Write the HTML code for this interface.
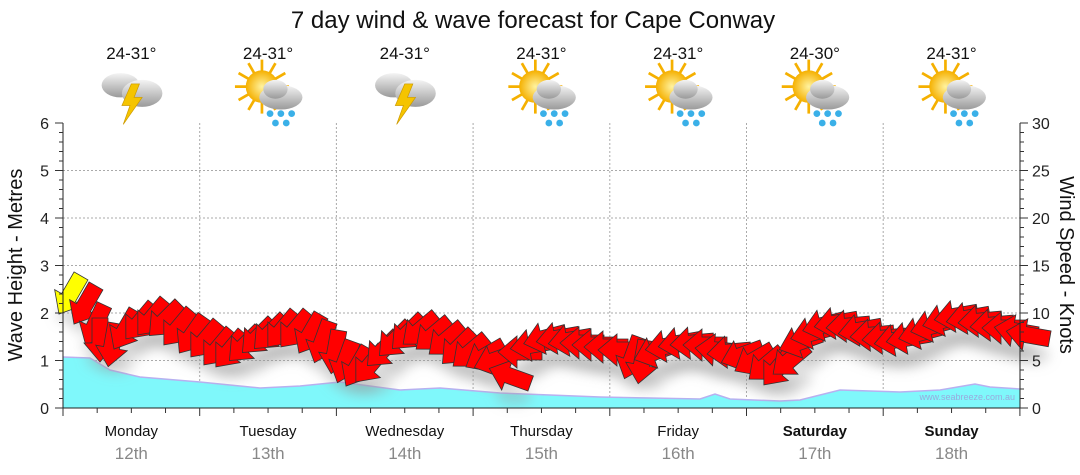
<!DOCTYPE html>
<html><head><meta charset="utf-8"><style>
html,body{margin:0;padding:0;background:#fff;}
svg{display:block;font-family:"Liberation Sans","DejaVu Sans",sans-serif;}
</style></head><body>
<svg id="s" width="1080" height="475" viewBox="0 0 1080 475" xmlns="http://www.w3.org/2000/svg">
<defs>
<filter id="sh" x="-50%" y="-50%" width="200%" height="200%"><feGaussianBlur stdDeviation="6"/></filter>
<radialGradient id="sun" cx="50%" cy="50%" r="50%"><stop offset="0" stop-color="#fff3a0"/><stop offset="1" stop-color="#f5b000"/></radialGradient>
<linearGradient id="cl" x1="0" y1="0" x2="0" y2="1"><stop offset="0" stop-color="#f4f4f4"/><stop offset="1" stop-color="#9a9a9a"/></linearGradient>
</defs>
<text x="533" y="28" font-size="24" text-anchor="middle" fill="#111">7 day wind &amp; wave forecast for Cape Conway</text>
<g id="g"></g>
</svg>
<script>
const g=document.getElementById('g');let h='';
const X0=63,X1=1020,Y0=408,Y6=123,DW=136.7;
for(let i=1;i<6;i++){const y=Y0-i*47.5;h+=`<line x1="${X0}" x2="${X1}" y1="${y}" y2="${y}" stroke="#aaa" stroke-dasharray="2,2"/>`;}
for(let d=1;d<7;d++){const x=X0+d*DW;h+=`<line x1="${x}" x2="${x}" y1="${Y6}" y2="${Y0}" stroke="#aaa" stroke-dasharray="2,2"/>`;}
const w=[[63,357],[90,358],[110,370],[140,377],[200,382],[260,388],[300,386],[340,382],[400,390],[440,388],[500,393],[550,395],[600,397],[650,398],[700,399],[715,394],[730,399],[780,401],[800,400],[840,390],[870,391],[900,392],[940,390],[975,384],[990,387],[1020,389]];
h+=`<path d="M63,408 L${w.map(p=>p.join(',')).join(' L')} L1020,408Z" fill="#7ff8fb"/>`;
h+=`<path d="M${w.map(p=>p.join(',')).join(' L')}" fill="none" stroke="#b8b0f0" stroke-width="1.5"/>`;
h+=`<text x="1015" y="400" font-size="9" fill="#9ad" text-anchor="end">www.seabreeze.com.au</text>`;
const a=[[70,295,120],[85,305,120],[95,325,115],[100,340,90],[112,345,100],[125,330,120],[140,322,130],[152,318,130],[165,320,135],[178,328,130],[192,335,125],[205,340,130],[218,348,130],[230,350,130],[245,345,135],[258,337,135],[270,333,135],[282,330,130],[295,330,130],[310,334,120],[322,342,110],[335,352,100],[345,362,110],[357,367,120],[370,365,130],[383,350,135],[395,340,135],[408,333,135],[420,330,140],[433,335,140],[446,340,140],[458,348,135],[470,352,140],[485,356,150],[495,360,160],[510,376,200],[520,352,180],[532,345,170],[545,338,165],[558,338,170],[570,340,170],[582,343,180],[594,345,180],[606,347,180],[620,350,180],[632,358,110],[642,362,100],[655,352,160],[667,346,170],[680,343,170],[692,343,175],[705,345,180],[717,350,185],[729,352,175],[742,355,160],[754,360,150],[766,365,140],[778,368,130],[790,360,140],[800,342,160],[812,333,165],[824,325,165],[836,323,170],[848,326,175],[860,330,170],[872,335,175],[884,338,175],[896,340,170],[908,338,170],[920,333,165],[932,326,165],[944,320,165],[956,316,170],[968,318,170],[980,321,175],[992,325,175],[1004,328,180],[1016,331,190],[1028,335,190]];
let sh='',ar='';
const shape='M-22,-8 L3,-8 L3,-16 L22,0 L3,16 L3,8 L-22,8Z';
a.forEach((p,i)=>{sh+=`<ellipse cx="${p[0]+4}" cy="${p[1]+20}" rx="18" ry="9" fill="#999" opacity=".35"/>`;
ar+=`<path d="${shape}" transform="translate(${p[0]},${p[1]}) rotate(${p[2]})" fill="${i==0?'#ffff00':'#ff0000'}" stroke="#333" stroke-width="0.8"/>`;});
h+=`<g filter="url(#sh)">${sh}</g>${ar}`;
h+=`<line x1="${X0}" x2="${X0}" y1="${Y6}" y2="${Y0}" stroke="#222"/><line x1="${X1}" x2="${X1}" y1="${Y6}" y2="${Y0}" stroke="#222"/><line x1="${X0}" x2="${X1}" y1="${Y0}" y2="${Y0}" stroke="#222"/>`;
for(let i=0;i<=30;i++){const y=Y0-i*9.5;const maj=i%5==0;h+=`<line x1="${X0-(maj?8:4)}" x2="${X0}" y1="${y}" y2="${y}" stroke="#333"/>`;h+=`<line x1="${X1}" x2="${X1+(maj?8:4)}" y1="${y}" y2="${y}" stroke="#333"/>`;
if(maj){h+=`<text x="${X0-14}" y="${y+6}" font-size="16" text-anchor="end" fill="#222">${i/5}</text>`;h+=`<text x="${X1+12}" y="${y+6}" font-size="16" fill="#222">${i}</text>`;}}
for(let i=0;i<=28;i++){const x=X0+i*DW/4;h+=`<line x1="${x}" x2="${x}" y1="${Y0}" y2="${Y0+(i%4==0?8:5)}" stroke="#333"/>`;}
h+=`<text transform="translate(22,265) rotate(-90)" font-size="20" text-anchor="middle" fill="#111">Wave Height - Metres</text>`;
h+=`<text transform="translate(1060,265) rotate(90)" font-size="20" text-anchor="middle" fill="#111">Wind Speed - Knots</text>`;
const days=['Monday','Tuesday','Wednesday','Thursday','Friday','Saturday','Sunday'],dt=['12th','13th','14th','15th','16th','17th','18th'],tp=['24-31°','24-31°','24-31°','24-31°','24-31°','24-30°','24-31°'],ic=[0,1,0,1,1,1,1];
days.forEach((d,i)=>{const c=X0+DW*(i+0.5);
h+=`<text x="${c}" y="436" font-size="15" text-anchor="middle" fill="#111" ${i>=5?'font-weight="bold"':''}>${d}</text>`;
h+=`<text x="${c}" y="459" font-size="17" text-anchor="middle" fill="#888">${dt[i]}</text>`;
h+=`<text x="${c}" y="59" font-size="17" text-anchor="middle" fill="#111">${tp[i]}</text>`;
if(ic[i]==0){h+=`<g transform="translate(${c},92) scale(1.35)"><ellipse cx="-8" cy="-5" rx="14" ry="9" fill="url(#cl)"/><ellipse cx="8" cy="1" rx="15" ry="10" fill="url(#cl)"/><path d="M0,-6 L-7,10 L-1,10 L-6,24 L8,4 L2,4 L6,-6Z" fill="#f5c400" stroke="#c90" stroke-width=".5"/></g>`;}
else{h+=`<g transform="translate(${c+2},92) scale(1.35)"><g stroke="#f5b000" stroke-width="2">${[0,30,60,90,120,150,180,210,240,270,300,330].map(r=>`<line x1="-6" y1="-4" x2="${-6+20*Math.cos(r*Math.PI/180)}" y2="${-4+20*Math.sin(r*Math.PI/180)}"/>`).join('')}</g><circle cx="-6" cy="-4" r="12" fill="url(#sun)"/><ellipse cx="8" cy="4" rx="16" ry="9" fill="url(#cl)"/><ellipse cx="4" cy="-2" rx="9" ry="7" fill="url(#cl)"/><g fill="#3ab0e8"><circle cx="0" cy="16" r="2.5"/><circle cx="8" cy="16" r="2.5"/><circle cx="16" cy="16" r="2.5"/><circle cx="4" cy="23" r="2.5"/><circle cx="12" cy="23" r="2.5"/></g></g>`;}
});
g.innerHTML=h;
</script>
</body></html>
